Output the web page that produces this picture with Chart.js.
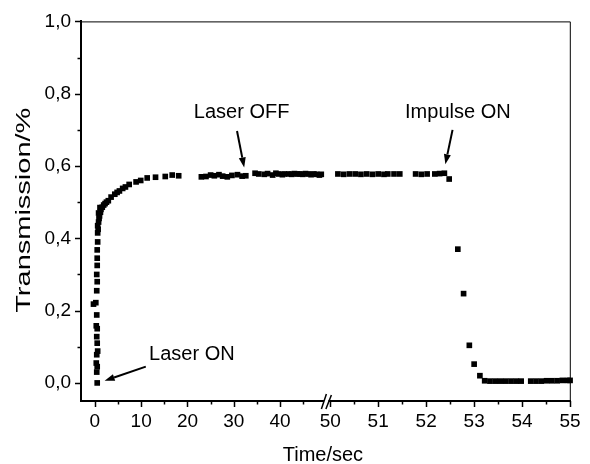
<!DOCTYPE html>
<html>
<head>
<meta charset="utf-8">
<script src="https://cdn.jsdelivr.net/npm/chart.js@4/dist/chart.umd.min.js"></script>
<style>
  html, body { margin: 0; background: #fff; }
  #wrap { width: 590px; height: 464px; }
</style>
</head>
<body>
<div id="wrap"><canvas id="chart"></canvas></div>
<script>
// values; axis is broken: 0..50 s, then 50..55 s
const timeA = [
  0.5, 0.4, 0.5, 0.3, 0.4, 0.6, 0.5, 0.4, 0.5, 0.3, 0.4, -0.3, 0.2, 0.4, 0.5, 0.4, 0.5, 0.5, 0.5, 0.6, 0.6, 0.7, 0.6,
  0.8, 0.9, 1.0, 0.8, 1.2, 1.3, 1.1, 1.6, 1.9, 2.2, 2.5, 2.9, 3.5, 4.3, 4.8, 5.3, 6.0, 6.6, 7.4, 8.9, 9.9, 11.3, 13.1, 15.2, 16.7, 18.1,
  23.0, 24.0, 25.0, 25.8, 26.8, 27.6, 28.6, 29.6, 30.8, 31.8, 32.6, 34.6, 35.4, 36.6, 37.3, 38.4, 39.1, 39.7, 40.5, 40.9,
  41.9, 42.5, 43.1, 43.7, 44.3, 44.9, 45.5, 46.1, 46.7, 47.3, 47.9, 48.5, 48.9
];
const transA = [
  0.000, 0.030, 0.045, 0.055, 0.078, 0.088, 0.110, 0.128, 0.150, 0.158, 0.188, 0.218, 0.222, 0.255, 0.280, 0.300, 0.325, 0.345, 0.368, 0.390, 0.415, 0.425, 0.435,
  0.445, 0.455, 0.462, 0.470, 0.472, 0.480, 0.485, 0.486, 0.492, 0.496, 0.500, 0.504, 0.514, 0.522, 0.527, 0.531, 0.538, 0.542, 0.549, 0.556, 0.560, 0.567, 0.569, 0.571, 0.575, 0.573,
  0.570, 0.571, 0.575, 0.573, 0.576, 0.572, 0.570, 0.574, 0.576, 0.572, 0.573, 0.580, 0.578, 0.577, 0.579, 0.575, 0.580, 0.578, 0.576, 0.578,
  0.578, 0.577, 0.579, 0.578, 0.578, 0.577, 0.579, 0.578, 0.576, 0.578, 0.577, 0.575, 0.577
];
const timeB = [
  50.16, 50.28, 50.40, 50.52, 50.64, 50.76, 50.88, 51.00, 51.12, 51.20, 51.33, 51.45, 51.78, 51.90, 52.02, 52.18, 52.28, 52.38,
  52.48, 52.66, 52.78, 52.90, 53.00, 53.12,
  53.22, 53.33, 53.44, 53.55, 53.66, 53.77, 53.88, 53.98, 54.18, 54.29, 54.40, 54.51, 54.62, 54.73, 54.84, 54.95, 55.00
];
const transB = [
  0.578, 0.577, 0.578, 0.578, 0.577, 0.578, 0.577, 0.578, 0.577, 0.578, 0.578, 0.578, 0.578, 0.577, 0.578, 0.578, 0.579, 0.580,
  0.564, 0.370, 0.247, 0.104, 0.052, 0.020,
  0.006, 0.005, 0.005, 0.005, 0.005, 0.005, 0.005, 0.005, 0.005, 0.005, 0.005, 0.006, 0.006, 0.006, 0.007, 0.007, 0.007
];

const xLabelsA = [0, 10, 20, 30, 40];
const xLabelsB = [50, 51, 52, 53, 54, 55];
const yLabels = [0, 0.2, 0.4, 0.6, 0.8, 1.0];

// annotation text and arrows, placed in data units
const notes = [
  { text: 'Laser ON', axis: 'x1', at: [11.7, 0.064], align: 'left', from: [11.0, 0.045], to: [2.1, 0.006] },
  { text: 'Laser OFF', axis: 'x1', at: [31.7, 0.733], align: 'center', from: [30.7, 0.697], to: [32.25, 0.596] },
  { text: 'Impulse ON', axis: 'x2', at: [51.56, 0.733], align: 'left', from: [52.55, 0.70], to: [52.40, 0.605] }
];

const FONT = '"Liberation Sans", Arial, sans-serif';
Chart.defaults.font.family = FONT;
Chart.defaults.font.size = 19;
Chart.defaults.color = '#000';

const isIn = (list, v) => list.some(m => Math.abs(m - v) < 1e-6);

function toPoints(xs, ys) {
  return xs.map((x, i) => ({ x: x, y: ys[i] }));
}

function drawArrow(ctx, x0, y0, x1, y1) {
  const ang = Math.atan2(y1 - y0, x1 - x0);
  const hl = 10, hw = 3.5;
  const bx = x1 - hl * Math.cos(ang), by = y1 - hl * Math.sin(ang);
  ctx.beginPath(); ctx.moveTo(x0, y0); ctx.lineTo(bx, by); ctx.stroke();
  ctx.beginPath();
  ctx.moveTo(x1, y1);
  ctx.lineTo(bx + hw * Math.sin(ang), by - hw * Math.cos(ang));
  ctx.lineTo(bx - hw * Math.sin(ang), by + hw * Math.cos(ang));
  ctx.closePath();
  ctx.fill();
}

const decor = {
  id: 'decor',
  afterDraw(chart) {
    const ctx = chart.ctx;
    const a = chart.chartArea;
    const sx1 = chart.scales.x1, sx2 = chart.scales.x2, sy = chart.scales.y;
    ctx.save();
    ctx.strokeStyle = '#000';
    ctx.fillStyle = '#000';

    // top and right frame
    ctx.lineWidth = 1;
    ctx.beginPath();
    ctx.moveTo(a.left, a.top + 0.5);
    ctx.lineTo(a.right - 0.5, a.top + 0.5);
    ctx.lineTo(a.right - 0.5, a.bottom);
    ctx.stroke();

    // tick marks, major and minor
    ctx.lineWidth = 1.5;
    [[sx1, xLabelsA], [sx2, xLabelsB]].forEach(([s, majors]) => {
      s.ticks.forEach(t => {
        const px = Math.round(s.getPixelForValue(t.value)) + 0.5;
        const len = isIn(majors, t.value) ? 6 : 3.5;
        ctx.beginPath(); ctx.moveTo(px, a.bottom); ctx.lineTo(px, a.bottom + len); ctx.stroke();
      });
    });
    sy.ticks.forEach(t => {
      const py = Math.round(sy.getPixelForValue(t.value)) + 0.5;
      const len = isIn(yLabels, t.value) ? 6 : 3.5;
      ctx.beginPath(); ctx.moveTo(a.left, py); ctx.lineTo(a.left - len, py); ctx.stroke();
    });

    // axis break marks
    const jx = sx1.right;
    ctx.fillStyle = '#fff';
    ctx.fillRect(jx - 2, a.bottom - 2, 4.5, 4);
    ctx.fillStyle = '#000';
    ctx.lineWidth = 1.5;
    ctx.beginPath(); ctx.moveTo(jx - 4.5, a.bottom + 8); ctx.lineTo(jx + 0.5, a.bottom - 7); ctx.stroke();
    ctx.beginPath(); ctx.moveTo(jx, a.bottom + 8); ctx.lineTo(jx + 5.5, a.bottom - 6); ctx.stroke();

    // annotations
    ctx.font = '20px ' + FONT;
    ctx.textBaseline = 'alphabetic';
    ctx.lineWidth = 2;
    notes.forEach(n => {
      const sx = chart.scales[n.axis];
      ctx.textAlign = n.align;
      ctx.fillText(n.text, sx.getPixelForValue(n.at[0]), sy.getPixelForValue(n.at[1]));
      drawArrow(ctx,
        sx.getPixelForValue(n.from[0]), sy.getPixelForValue(n.from[1]),
        sx.getPixelForValue(n.to[0]), sy.getPixelForValue(n.to[1]));
    });

    // axis titles
    ctx.textAlign = 'center';
    ctx.fillText('Time/sec', (a.left + a.right) / 2 - 3, 461);
    ctx.save();
    ctx.translate(29.5, (a.top + a.bottom) / 2 - 1);
    ctx.rotate(-Math.PI / 2);
    ctx.scale(1.45, 1);
    ctx.fillText('Transmission/%', 0, 0);
    ctx.restore();

    ctx.restore();
  }
};

const pointStyle = {
  showLine: false,
  pointStyle: 'rect',
  pointRadius: 4,
  pointHoverRadius: 4,
  pointBorderWidth: 0,
  backgroundColor: '#000',
  borderColor: '#000',
  clip: false
};

const xCommon = {
  type: 'linear',
  position: 'bottom',
  stack: 'time',
  stackWeight: 1,
  grid: { display: false, drawTicks: false },
  border: { display: true, color: '#000', width: 2 },
  afterFit: s => { s.height = 63; }
};

new Chart(document.getElementById('chart'), {
  type: 'scatter',
  data: {
    datasets: [
      Object.assign({ data: toPoints(timeA, transA), xAxisID: 'x1', yAxisID: 'y' }, pointStyle),
      Object.assign({ data: toPoints(timeB, transB), xAxisID: 'x2', yAxisID: 'y' }, pointStyle)
    ]
  },
  options: {
    responsive: true,
    maintainAspectRatio: false,
    animation: false,
    layout: { padding: { left: 0, right: 12, top: 20, bottom: 0 } },
    plugins: { legend: { display: false }, tooltip: { enabled: false } },
    scales: {
      x1: Object.assign({}, xCommon, {
        min: -3, max: 49.9,
        ticks: {
          stepSize: 5, includeBounds: false, autoSkip: false, maxRotation: 0, padding: 9,
          callback: v => isIn(xLabelsA, v) ? String(v) : ''
        }
      }),
      x2: Object.assign({}, xCommon, {
        min: 49.91, max: 55.015,
        ticks: {
          stepSize: 0.5, includeBounds: false, autoSkip: false, maxRotation: 0, padding: 9,
          callback: v => isIn(xLabelsB, v) ? String(v) : ''
        }
      }),
      y: {
        type: 'linear',
        position: 'left',
        min: -0.05, max: 1.0,
        grid: { display: false, drawTicks: false },
        border: { display: true, color: '#000', width: 2 },
        ticks: {
          stepSize: 0.1, includeBounds: false, autoSkip: false, padding: 10,
          callback: v => isIn(yLabels, v) ? v.toFixed(1).replace('.', ',') : ''
        },
        afterFit: s => { s.width = 81; }
      }
    }
  },
  plugins: [decor]
});
</script>
</body>
</html>
